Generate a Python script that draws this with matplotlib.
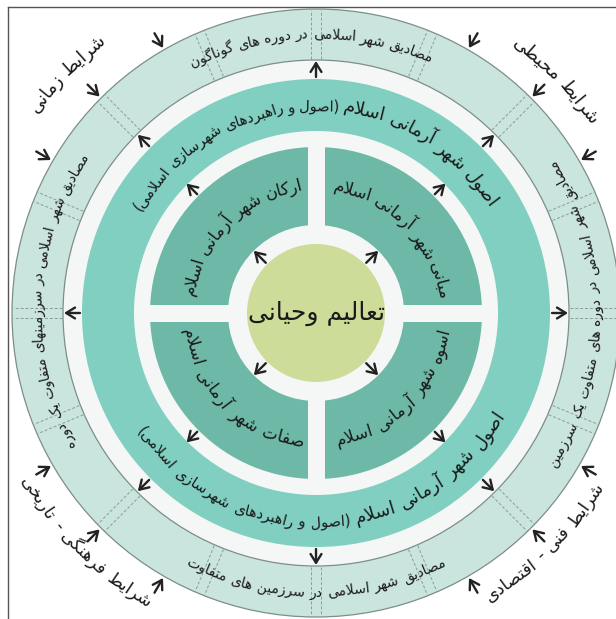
import unicodedata
import numpy as np
import matplotlib
matplotlib.use("Agg")
import matplotlib.pyplot as plt
from matplotlib.patches import Circle, Rectangle
from matplotlib.font_manager import FontProperties

# ---------------- data (text content) ----------------
CENTER_LABEL = "تعالیم وحیانی"
CORE_LABELS = ["مبانی شهر آرمانی اسلام", "ارکان شهر آرمانی اسلام",
               "صفات شهر آرمانی اسلام", "اسوه شهر آرمانی اسلام"]
PRINCIPLE_MAIN = "اصول شهر آرمانی اسلام"
PRINCIPLE_SUB = "(اصول و راهبردهای شهرسازی اسلامی)"
INSTANCE_LABELS = ["مصادیق شهر اسلامی در دوره های گوناگون",
                   "مصادیق شهر اسلامی در سرزمینهای متفاوت یک دوره",
                   "مصادیق شهر اسلامی در سرزمین های متفاوت",
                   "مصادیق شهر اسلامی در دوره های متفاوت یک سرزمین"]
CONDITION_LABELS = ["شرایط محیطی", "شرایط زمانی",
                    "شرایط فرهنگی - تاریخی", "شرایط فنی - اقتصادی"]

# ---------------- layout ----------------
CORE_ANGLES = [44, 134, -134, -44]
INSTANCE_ANGLES = [91, 177, -90, 0]
INSTANCE_TOP_OUT = [True, True, False, False]
CONDITION_ANGLES = [44, 136, -135, -45]
CONDITION_TOP_OUT = [True, True, False, False]
CONDITION_R = [338, 348, 333, 330]
CONDITION_FS = [13, 13, 12.5, 12.5]

W, H, DPI = 616, 619, 100
CX, CY = 316, 313

plt.rcParams["font.family"] = ["DejaVu Sans"]

# ---------------- minimal Arabic/Persian shaping ----------------
_FCACHE = {}


def _forms(ch):
    if ch in _FCACHE:
        return _FCACHE[ch]
    res = {}
    try:
        name = unicodedata.name(ch)
    except ValueError:
        name = None
    if name and name.startswith("ARABIC LETTER"):
        for f in ("ISOLATED", "FINAL", "INITIAL", "MEDIAL"):
            try:
                res[f] = unicodedata.lookup(name + " " + f + " FORM")
            except KeyError:
                pass
    _FCACHE[ch] = res
    return res


LAMALEF = {"ا": ("\uFEFB", "\uFEFC"), "آ": ("\uFEF5", "\uFEF6")}


def shape(text):
    out = []
    n = len(text)
    prev_joins = False
    i = 0
    while i < n:
        c = text[i]
        f = _forms(c)
        if not f:
            if c != "\u200c":
                out.append(c)
            prev_joins = False
            i += 1
            continue
        if c == "ل" and i + 1 < n and text[i + 1] in LAMALEF:
            iso, fin = LAMALEF[text[i + 1]]
            out.append(fin if prev_joins else iso)
            prev_joins = False
            i += 2
            continue
        dual = "INITIAL" in f
        nxt = text[i + 1] if i + 1 < n else None
        join_next = dual and nxt is not None and bool(_forms(nxt))
        if prev_joins and join_next:
            form = "MEDIAL"
        elif prev_joins:
            form = "FINAL"
        elif join_next:
            form = "INITIAL"
        else:
            form = "ISOLATED"
        out.append(f.get(form, f.get("ISOLATED", c)))
        prev_joins = dual
        i += 1
    mirror = {"(": ")", ")": "("}
    return "".join(mirror.get(c, c) for c in reversed("".join(out)))


# ---------------- figure ----------------
fig = plt.figure(figsize=(W / DPI, H / DPI), dpi=DPI)
ax = fig.add_axes([0, 0, 1, 1])
ax.set_xlim(0, W)
ax.set_ylim(H, 0)
ax.axis("off")
renderer = fig.canvas.get_renderer()


def P(r, deg):
    t = np.radians(deg)
    return CX + r * np.cos(t), CY - r * np.sin(t)


GAP = "#f5f7f6"
# frame
ax.plot([8, 8], [7, H], color="#555555", lw=1.0, zorder=0.5)
ax.plot([8, W], [7, 7], color="#555555", lw=1.0, zorder=0.5)

ax.add_patch(Circle((CX, CY), 304, fc="#cae4de", ec="#7d8e8a", lw=0.9, zorder=1))
ax.add_patch(Circle((CX, CY), 253, fc=GAP, ec="#7d8e8a", lw=0.9, zorder=2))
ax.add_patch(Circle((CX, CY), 234, fc="#80cfc0", ec="none", zorder=3))
ax.add_patch(Circle((CX, CY), 182, fc=GAP, ec="none", zorder=4))
ax.add_patch(Circle((CX, CY), 166, fc="#6db8a6", ec="none", zorder=5))
ax.add_patch(Rectangle((CX - 170, CY - 8.5), 340, 17, fc=GAP, ec="none", zorder=6))
ax.add_patch(Rectangle((CX - 8.5, CY - 170), 17, 340, fc=GAP, ec="none", zorder=6))
ax.add_patch(Circle((CX, CY), 88, fc=GAP, ec="none", zorder=7))
ax.add_patch(Circle((CX, CY), 69, fc="#cddc98", ec="none", zorder=8))

# dashed dividers in the outer ring
for k in range(16):
    t = np.radians(k * 22.5)
    ux, uy = np.cos(t), -np.sin(t)
    px, py = -uy, ux
    for s in (-5, 5):
        ax.plot([CX + 254 * ux + s * px, CX + 303 * ux + s * px],
                [CY + 254 * uy + s * py, CY + 303 * uy + s * py],
                ls=(0, (3, 2)), lw=0.7, color="#8a9c98", zorder=1.5)


def arrow(r0, r1, deg):
    ax.annotate("", xy=P(r1, deg), xytext=P(r0, deg),
                arrowprops=dict(arrowstyle="->,head_length=0.45,head_width=0.28",
                                lw=1.7, color="#222222", shrinkA=0, shrinkB=0,
                                mutation_scale=14), zorder=20)


for a in [30, 45, 60, 120, 135, 150, -30, -45, -60, -120, -135, -150]:
    arrow(323, 306, a)
for a in range(0, 360, 45):
    arrow(236, 252, a)
for a in (45, 135, -135, -45):
    arrow(168, 183, a)
    arrow(71, 88, a)


def arc_text(segments, r_mid, center_deg, top_out, color="#1a1a1a", weight="normal"):
    items = []
    for text, fs in reversed(segments):
        vis = shape(text)
        prop = FontProperties(family="DejaVu Sans", size=fs, weight=weight)
        for w in vis.split(" "):
            if not w:
                continue
            wpx, _, _ = renderer.get_text_width_height_descent(w, prop, ismath=False)
            items.append((w, fs, wpx))
    fsmax = max(fs for _, fs, _ in items)
    fspx = fsmax * DPI / 72.0
    total = 0.0
    offs = []
    for k, (w, fs, wpx) in enumerate(items):
        offs.append(total + wpx / 2)
        total += wpx
        if k < len(items) - 1:
            total += 0.33 * fs * DPI / 72.0
    span = np.degrees(total / r_mid)
    off = 0.32 * fspx
    r_base = r_mid - off if top_out else r_mid + off
    for (w, fs, wpx), o in zip(items, offs):
        if top_out:
            th = center_deg + span / 2 - np.degrees(o / r_mid)
            rot = th - 90
        else:
            th = center_deg - span / 2 + np.degrees(o / r_mid)
            rot = th + 90
        x, y = P(r_base, th)
        ax.text(x, y, w, fontsize=fs, rotation=rot, rotation_mode="anchor",
                ha="center", va="baseline", color=color, weight=weight, zorder=30)


# center
ax.text(CX, CY, shape(CENTER_LABEL), fontsize=18, ha="center", va="center",
        color="#1a1a1a", zorder=30)
# core quadrant labels
for lab, a in zip(CORE_LABELS, CORE_ANGLES):
    arc_text([(lab, 12)], 128, a, a > 0)
# principle ring (top and bottom)
arc_text([(PRINCIPLE_MAIN, 13), (PRINCIPLE_SUB, 10.5)], 208, 90.5, True)
arc_text([(PRINCIPLE_MAIN, 13), (PRINCIPLE_SUB, 10.5)], 208, -87.5, False)
# outer ring
for lab, a, to in zip(INSTANCE_LABELS, INSTANCE_ANGLES, INSTANCE_TOP_OUT):
    arc_text([(lab, 10)], 279, a, to)
# conditions outside
for lab, a, to, r, fs in zip(CONDITION_LABELS, CONDITION_ANGLES, CONDITION_TOP_OUT,
                             CONDITION_R, CONDITION_FS):
    arc_text([(lab, fs)], r, a, to)

fig.savefig("out.png", dpi=DPI)
